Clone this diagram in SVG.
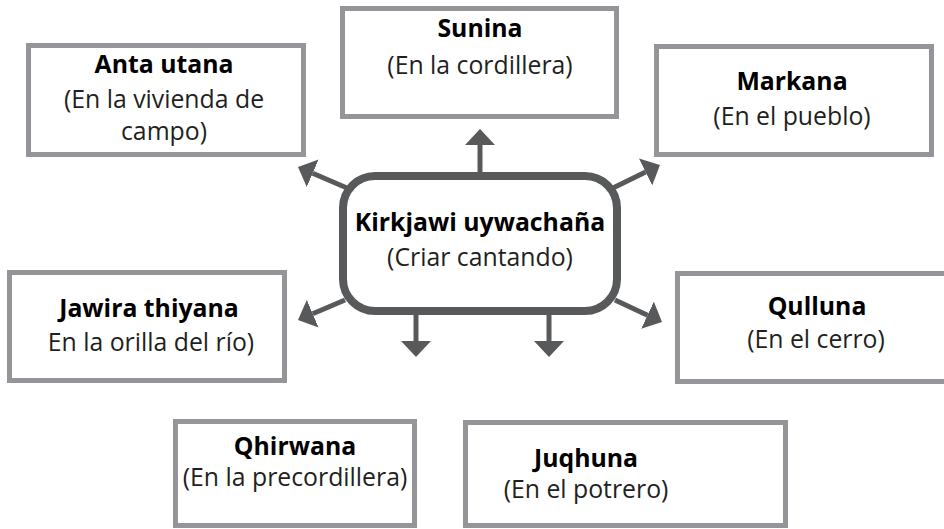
<svg xmlns="http://www.w3.org/2000/svg" width="944" height="529" viewBox="0 0 944 529">
<defs>
<style>
.box{fill:#fff;stroke:#939598;stroke-width:5}
.hub{fill:#fff;stroke:#58595b;stroke-width:8}
.t{font-family:"Open Sans","Liberation Sans",sans-serif;font-size:24.8px;fill:#231f20;text-anchor:middle}
.b{font-weight:bold;fill:#000}
.c{fill:none;stroke:#58595b;stroke-width:5}
</style>
<marker id="ah" markerUnits="userSpaceOnUse" markerWidth="17" markerHeight="30" refX="0" refY="15" orient="auto" viewBox="0 0 17 30">
<path d="M0,0 L16,15 L0,30 z" fill="#58595b"/>
</marker>
</defs>
<g id="connectors">
<line class="c" x1="480" y1="176" x2="480" y2="145" marker-end="url(#ah)"/>
<line class="c" x1="416" y1="311" x2="416" y2="341" marker-end="url(#ah)"/>
<line class="c" x1="549" y1="311" x2="549" y2="341" marker-end="url(#ah)"/>
<line class="c" x1="347" y1="188" x2="312.7" y2="173.3" marker-end="url(#ah)"/>
<line class="c" x1="613" y1="188" x2="645.6" y2="172" marker-end="url(#ah)"/>
<line class="c" x1="345" y1="300" x2="312.7" y2="313.7" marker-end="url(#ah)"/>
<line class="c" x1="615" y1="300" x2="647.5" y2="315.2" marker-end="url(#ah)"/>
</g>
<g id="hub">
<rect class="hub" x="343" y="176" width="274" height="135" rx="32"/>
<text class="t b" x="480" y="231">Kirkjawi uywachaña</text>
<text class="t" x="480" y="266">(Criar cantando)</text>
</g>
<g id="anta-utana">
<rect class="box" x="28.5" y="45.5" width="275" height="109"/>
<text class="t b" x="164" y="73">Anta utana</text>
<text class="t" x="164" y="108">(En la vivienda de</text>
<text class="t" x="164" y="140">campo)</text>
</g>
<g id="sunina">
<rect class="box" x="342.5" y="8.5" width="274" height="108"/>
<text class="t b" x="480" y="37">Sunina</text>
<text class="t" x="480" y="74">(En la cordillera)</text>
</g>
<g id="markana">
<rect class="box" x="656.5" y="46.5" width="275" height="108"/>
<text class="t b" x="792" y="90">Markana</text>
<text class="t" x="792" y="125">(En el pueblo)</text>
</g>
<g id="jawira-thiyana">
<rect class="box" x="9.5" y="272.5" width="275" height="108"/>
<text class="t b" x="149" y="317">Jawira thiyana</text>
<text class="t" x="151" y="351">En la orilla del río)</text>
</g>
<g id="qulluna">
<rect class="box" x="677.5" y="273.5" width="275" height="108"/>
<text class="t b" x="817" y="315">Qulluna</text>
<text class="t" x="816" y="348">(En el cerro)</text>
</g>
<g id="qhirwana">
<rect class="box" x="175.5" y="421.5" width="239" height="104"/>
<text class="t b" x="295" y="455">Qhirwana</text>
<text class="t" x="295" y="486">(En la precordillera)</text>
</g>
<g id="juqhuna">
<rect class="box" x="465.5" y="422.5" width="320" height="103"/>
<text class="t b" x="586" y="467">Juqhuna</text>
<text class="t" x="586" y="498">(En el potrero)</text>
</g>
</svg>
